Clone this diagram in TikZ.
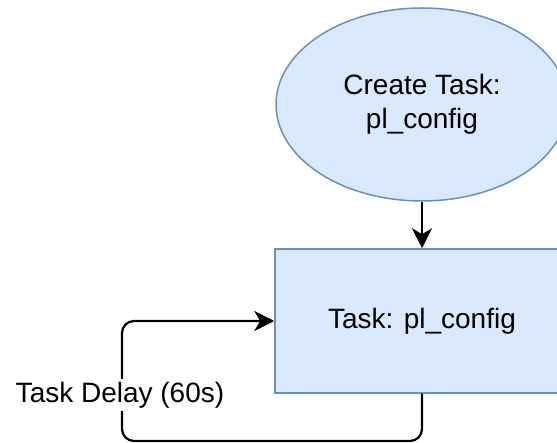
\documentclass[tikz,border=0pt]{standalone}
\usepackage{fontspec}
\setmainfont{Liberation Sans}
\usetikzlibrary{shapes.geometric,arrows.meta}
\definecolor{boxfill}{HTML}{DAE8FC}
\definecolor{boxline}{HTML}{6C8EBF}
\begin{document}
\begin{tikzpicture}[x=1pt,y=-1pt,
  shapebox/.style={draw=boxline,fill=boxfill,line width=1.5pt,inner sep=0pt,
    align=center,font=\fontsize{28}{33.5}\selectfont},
  conn/.style={line width=2.2pt,-{Stealth[length=20pt,width=20pt,inset=6pt]},rounded corners=12pt},
  looplabel/.style={fill=white,inner sep=3pt,font=\fontsize{28}{33.5}\selectfont}]
  \useasboundingbox (0,0) rectangle (557,443);
  \begin{scope}
    \clip (0,0) rectangle (557,443);
    % start of the task
    \node[shapebox,ellipse,minimum width=292pt,minimum height=193pt] (create)
      at (422,104.5) {Create Task:\\pl\_config};
    % the running task
    \node[shapebox,rectangle,minimum width=294pt,minimum height=144pt] (task)
      at (422,321) {Task: pl\_config};
  \end{scope}
  \coordinate (loopcorner) at (122,441);
  \draw[conn] (create.south) -- (task.north);
  \draw[conn] (task.south) |- (loopcorner) |- (task.west);
  \node[looplabel] (delay) at (120,395) {Task Delay (60s)};
\end{tikzpicture}
\end{document}
